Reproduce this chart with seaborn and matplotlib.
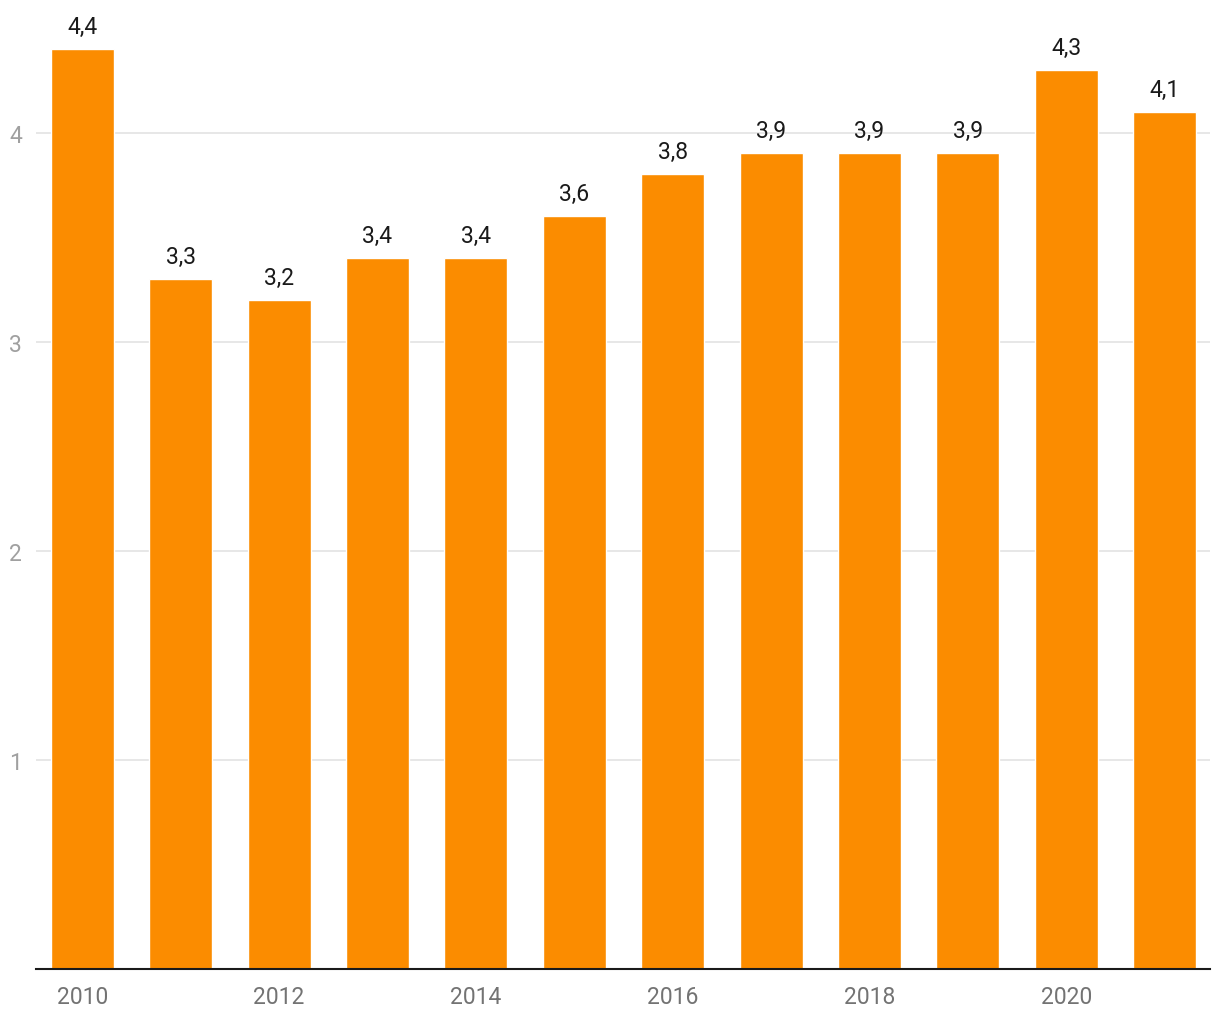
import matplotlib
matplotlib.use("Agg")
import matplotlib.pyplot as plt
import seaborn as sns
import pandas as pd

# datos
years = [2010, 2011, 2012, 2013, 2014, 2015, 2016, 2017, 2018, 2019, 2020, 2021]
values = [4.4, 3.3, 3.2, 3.4, 3.4, 3.6, 3.8, 3.9, 3.9, 3.9, 4.3, 4.1]
y_ticks = [1, 2, 3, 4]

df = pd.DataFrame({"year": [str(y) for y in years], "value": values})

sns.set_style("white")
plt.rcParams['font.family'] = ['Roboto', 'DejaVu Sans']

fig = plt.figure(figsize=(12.2, 10.2), dpi=100)
ax = fig.add_axes([0.0295, 0.0495, 0.9623, 0.9425])

sns.barplot(data=df, x="year", y="value", color="#FB8C00", saturation=1,
            width=0.64, ax=ax, zorder=3)

# etiquetas sobre las barras
for i, v in enumerate(values):
    ax.text(i, v + 0.077, f"{v:.1f}".replace(".", ","), ha="center", va="baseline",
            fontsize=16.5, color="#1a1a1a")

ax.set_ylim(0, 4.6)
ax.set_xlim(-0.47, 11.46)
ax.set_yticks(y_ticks)
ax.set_yticklabels([str(t) for t in y_ticks])
ax.grid(axis="y", color="#e3e3e3", linewidth=1.2, zorder=0)
ax.set_xticks(range(0, len(years), 2))
ax.set_xticklabels([str(y) for y in years[::2]])
ax.tick_params(axis="both", length=0, labelsize=16.5)
ax.tick_params(axis="y", pad=10, labelcolor="#a0a0a0")
ax.tick_params(axis="x", pad=12, labelcolor="#737373")
ax.set_xlabel("")
ax.set_ylabel("")
for s in ["top", "right", "left"]:
    ax.spines[s].set_visible(False)
ax.spines["bottom"].set_color("#1a1a1a")
ax.spines["bottom"].set_linewidth(1.5)
ax.spines["bottom"].set_zorder(4)

fig.savefig("out.png", dpi=100)
